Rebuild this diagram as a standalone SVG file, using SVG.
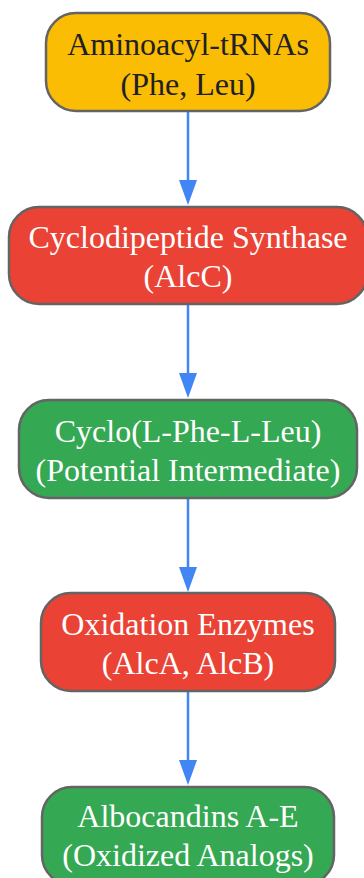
<svg xmlns="http://www.w3.org/2000/svg" width="364" height="878" viewBox="0 0 364 878">
<style>
.node rect{stroke:#646464;stroke-width:2.5}
.t{font-family:"Liberation Serif","Times New Roman",serif;font-size:32px;text-anchor:middle;fill:#ffffff}
.dark{fill:#202124}
.y{fill:#FBBC04}.r{fill:#EA4335}.g{fill:#34A853}
.edge{stroke:#4285F4;stroke-width:2.5;fill:none}
.ah{fill:#4285F4}
</style>
<rect width="364" height="878" fill="#ffffff"/>
<g id="connectors">
<line class="edge" x1="188" y1="111" x2="188" y2="182"/>
<polygon class="ah" points="179,180 197,180 188,205"/>
<line class="edge" x1="188" y1="304" x2="188" y2="375"/>
<polygon class="ah" points="179,373 197,373 188,398"/>
<line class="edge" x1="188" y1="498" x2="188" y2="569"/>
<polygon class="ah" points="179,567 197,567 188,592"/>
<line class="edge" x1="188" y1="691" x2="188" y2="762"/>
<polygon class="ah" points="179,760 197,760 188,785"/>
</g>
<g id="n1" class="node">
<rect class="y" x="46" y="13" width="284" height="98" rx="30"/>
<text class="t dark" x="188" y="55">Aminoacyl-tRNAs</text>
<text class="t dark" x="188" y="95">(Phe, Leu)</text>
</g>
<g id="n2" class="node">
<rect class="r" x="9" y="207" width="358" height="97" rx="30"/>
<text class="t" x="188" y="248">Cyclodipeptide Synthase</text>
<text class="t" x="188" y="287">(AlcC)</text>
</g>
<g id="n3" class="node">
<rect class="g" x="19" y="400" width="338" height="98" rx="30"/>
<text class="t" x="188" y="442">Cyclo(L-Phe-L-Leu)</text>
<text class="t" x="188" y="481">(Potential Intermediate)</text>
</g>
<g id="n4" class="node">
<rect class="r" x="41" y="593" width="294" height="98" rx="30"/>
<text class="t" x="188" y="635">Oxidation Enzymes</text>
<text class="t" x="188" y="674">(AlcA, AlcB)</text>
</g>
<g id="n5" class="node">
<rect class="g" x="42" y="787" width="292" height="98" rx="30"/>
<text class="t" x="188" y="827">Albocandins A-E</text>
<text class="t" x="188" y="866">(Oxidized Analogs)</text>
</g>
</svg>
